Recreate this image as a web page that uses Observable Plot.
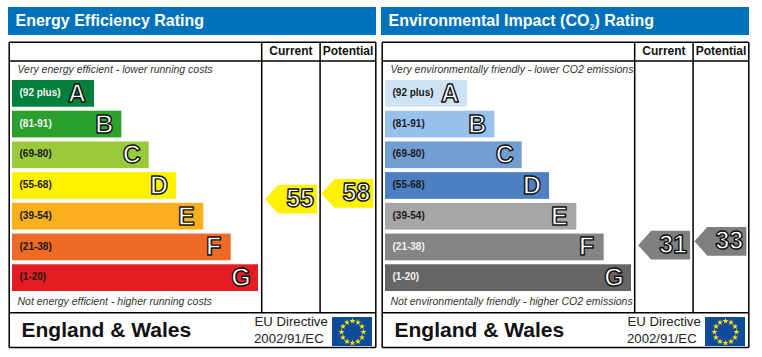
<!DOCTYPE html>
<html><head><meta charset="utf-8">
<script src="https://cdn.jsdelivr.net/npm/d3@7"></script>
<script src="https://cdn.jsdelivr.net/npm/@observablehq/plot@0.6"></script>
<style>
html,body{margin:0;padding:0;background:#fff;width:762px;height:357px;overflow:hidden}
#root{position:relative;width:762px;height:357px;font-family:"Liberation Sans",Arial,sans-serif}
.panel{position:absolute;top:0;width:373px;height:357px}
.panel svg{position:absolute;left:0;top:0}
.banner{position:absolute;left:8px;top:7px;width:368px;height:28px;background:#0072bc;color:#fff;font:bold 16px/27px "Liberation Sans",Arial,sans-serif;text-indent:7.5px;white-space:nowrap}
.banner sub{font-size:9px;line-height:0}
</style></head><body><div id="root"></div>
<script>
// ---- data ----
const letters = ["A","B","C","D","E","F","G"];
const ranges = ["(92 plus)","(81-91)","(69-80)","(55-68)","(39-54)","(21-38)","(1-20)"];
const barUnits = [3,4,5,6,7,8,9];            // bar length, in rating steps
const columns = ["Current","Potential"];
const energyScores = [55,58];
const impactScores = [31,33];
const energyColors = ["#007f3d","#2ca02c","#9aca3c","#fff200","#f9b01c","#ef6a24","#e31d23"];
const impactColors = ["#cde2f5","#97c0ec","#729dd2","#4c80c3","#a6a6a6","#858585","#666666"];
const energyLightLabels = ["A","B"];
const impactLightLabels = ["F","G"];
const starHours = [1,2,3,4,5,6,7,8,9,10,11,12];

const panels = [
  {left:0, title:'Energy Efficiency Rating', colors:energyColors, light:energyLightLabels, scores:energyScores, arrow:"#fff200",
   top:"Very energy efficient - lower running costs", bottom:"Not energy efficient - higher running costs"},
  {left:373, title:'Environmental Impact (CO<sub>2</sub>) Rating', colors:impactColors, light:impactLightLabels, scores:impactScores, arrow:"#7f7f7f",
   top:"Very environmentally friendly - lower CO2 emissions", bottom:"Not environmentally friendly - higher CO2 emissions"}
];

const W = 373, H = 357;
const font = '"Liberation Sans",Arial,sans-serif';
const base = {width:W, height:H, margin:0, style:{background:"transparent",fontFamily:font,overflow:"visible"}};

// table grid + captions
function chrome(p){
  const grid = [
    [8.7,41.7,375.3,41.7],[8.7,60.6,375.3,60.6],[8.7,312.3,375.3,312.3],[8.7,347,375.3,347],
    [8.7,41.7,8.7,347],[375.3,41.7,375.3,347],[261.2,41.7,261.2,312.3],[319.6,41.7,319.6,312.3]
  ].map(([x1,y1,x2,y2])=>({x1,y1,x2,y2}));
  const t = (s,x,y,o)=>Plot.text([s],{x:()=>x,y:()=>y,text:d=>d,lineAnchor:"middle",fill:"#111",...o});
  return Plot.plot({...base,
    x:{domain:[0,W],range:[0,W],axis:null}, y:{domain:[0,H],range:[0,H],axis:null},
    marks:[
      Plot.link(grid,{x1:"x1",y1:"y1",x2:"x2",y2:"y2",stroke:"#000",strokeWidth:1.5}),
      t(columns[0],290.4,50.5,{fontSize:12,fontWeight:"bold"}),
      t(columns[1],347.5,50.5,{fontSize:12,fontWeight:"bold"}),
      t(p.top,17,69,{fontSize:10.5,fontStyle:"italic",textAnchor:"start",fill:"#333"}),
      t(p.bottom,17,301,{fontSize:10.5,fontStyle:"italic",textAnchor:"start",fill:"#333"}),
      t("England & Wales",21,329.7,{fontSize:21,fontWeight:"bold",textAnchor:"start"}),
      t("EU Directive",254,321.7,{fontSize:13.2,textAnchor:"start",fill:"#222"}),
      t("2002/91/EC",253.5,338.3,{fontSize:13.2,textAnchor:"start",fill:"#222"})
    ]});
}

// rating bars
function bars(p){
  const rows = letters.map((l,i)=>({letter:l,range:ranges[i],units:barUnits[i]}));
  const labelOpts = {x:()=>0,y:"letter",text:"range",textAnchor:"start",dx:7,dy:-1,fontSize:10,fontWeight:"bold"};
  return Plot.plot({...base,
    x:{domain:[0,9],range:[12,258],axis:null},
    y:{type:"band",domain:letters,range:[80,291],paddingInner:0.13,paddingOuter:0,round:false,axis:null},
    color:{domain:letters,range:p.colors},
    marks:[
      Plot.barX(rows,{x:"units",y:"letter",fill:"letter"}),
      Plot.text(rows.filter(d=>!p.light.includes(d.letter)),{...labelOpts,fill:"#1a1a1a"}),
      Plot.text(rows.filter(d=>p.light.includes(d.letter)),{...labelOpts,fill:"#f2f2f2"}),
      Plot.text(rows,{x:"units",y:"letter",text:"letter",dx:-17.5,dy:0,fontSize:25,fontWeight:"bold",fill:"#fff",stroke:"#111",strokeWidth:1.4,paintOrder:"normal"})
    ]});
}

// score pointers
const pointer = {draw(c,size){
  const r = Math.sqrt(size/Math.PI), h = r*0.555;
  c.moveTo(-r,0); c.lineTo(-r*0.5,-h); c.lineTo(r,-h); c.lineTo(r,h); c.lineTo(-r*0.5,h); c.closePath();
}};
function arrows(p){
  const rows = columns.map((c,i)=>({column:c,score:p.scores[i]}));
  return Plot.plot({...base,
    x:{type:"band",domain:columns,range:[262.5,375],padding:0,round:false,axis:null},
    y:{domain:[1,100],range:[302.2,112.4],axis:null},
    marks:[
      Plot.dot(rows,{x:"column",y:"score",symbol:pointer,r:26,fill:p.arrow,stroke:"none"}),
      Plot.text(rows,{x:"column",y:"score",text:d=>String(d.score),dx:9,fontSize:25,fontWeight:"bold",fill:"#fff",stroke:"#111",strokeWidth:1.4,paintOrder:"normal"})
    ]});
}

// EU flag
function flag(){
  return Plot.plot({width:40,height:29,margin:0,style:{background:"#0f4a9b",left:"331.7px",top:"317px"},
    x:{domain:[-1.82,1.82],range:[0,40],axis:null},
    y:{domain:[-1.32,1.32],range:[29,0],axis:null},
    marks:[Plot.dot(starHours,{x:h=>Math.sin(h*Math.PI/6),y:h=>Math.cos(h*Math.PI/6),symbol:"star",r:1.9,fill:"#ffe600",stroke:"none"})]});
}

const root = document.getElementById("root");
for(const p of panels){
  const el = document.createElement("div");
  el.className = "panel"; el.style.left = p.left+"px";
  const b = document.createElement("div"); b.className="banner"; b.innerHTML = p.title; el.append(b);
  el.append(chrome(p), bars(p), arrows(p), flag());
  root.append(el);
}
</script></body></html>
